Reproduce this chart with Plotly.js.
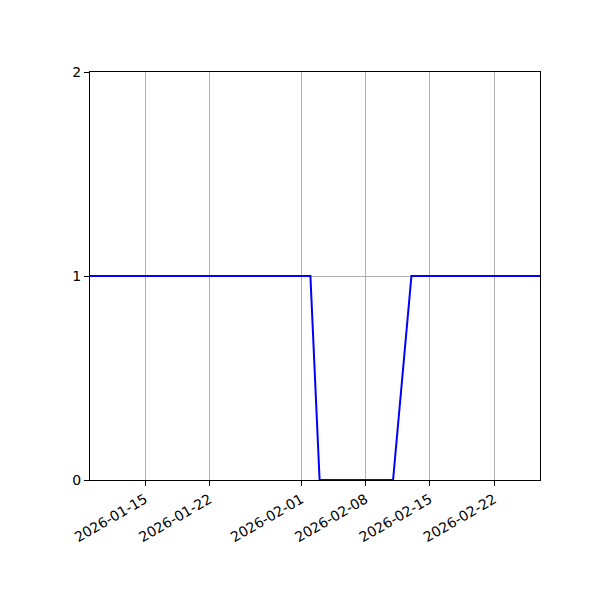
<!DOCTYPE html>
<html>
<head>
<meta charset="utf-8">
<script src="https://cdn.plot.ly/plotly-3.0.1.min.js"></script>
<style>
  body { margin: 0; background: #fff; }
  #chart { width: 600px; height: 600px; }
</style>
</head>
<body>
<div id="chart"></div>
<script>
// daily status values (02-12 has no sample)
const dates = [
  '2026-01-09', '2026-01-10', '2026-01-11', '2026-01-12', '2026-01-13', '2026-01-14',
  '2026-01-15', '2026-01-16', '2026-01-17', '2026-01-18', '2026-01-19', '2026-01-20',
  '2026-01-21', '2026-01-22', '2026-01-23', '2026-01-24', '2026-01-25', '2026-01-26',
  '2026-01-27', '2026-01-28', '2026-01-29', '2026-01-30', '2026-01-31', '2026-02-01',
  '2026-02-02', '2026-02-03', '2026-02-04', '2026-02-05', '2026-02-06', '2026-02-07',
  '2026-02-08', '2026-02-09', '2026-02-10', '2026-02-11', '2026-02-13', '2026-02-14',
  '2026-02-15', '2026-02-16', '2026-02-17', '2026-02-18', '2026-02-19', '2026-02-20',
  '2026-02-21', '2026-02-22', '2026-02-23', '2026-02-24', '2026-02-25', '2026-02-26',
  '2026-02-27'
]
const values = [
  1, 1, 1, 1, 1, 1,
  1, 1, 1, 1, 1, 1,
  1, 1, 1, 1, 1, 1,
  1, 1, 1, 1, 1, 1,
  1, 0, 0, 0, 0, 0,
  0, 0, 0, 0, 1, 1,
  1, 1, 1, 1, 1, 1,
  1, 1, 1, 1, 1, 1,
  1
]
const xTicks = ['2026-01-15', '2026-01-22', '2026-02-01', '2026-02-08', '2026-02-15', '2026-02-22']
const yTicks = [0, 1, 2]

const GRID = '#b0b0b0'

const traces = [
  {
    x: dates,
    y: values,
    mode: 'lines',
    type: 'scatter',
    line: { color: 'blue', width: 2 },
    hoverinfo: 'skip'
  }
]

const axisCommon = {
  showline: true,
  linecolor: 'black',
  linewidth: 1,
  mirror: true,
  ticks: 'outside',
  ticklen: 5,
  tickwidth: 1,
  tickcolor: 'black',
  showgrid: true,
  gridcolor: GRID,
  gridwidth: 1,
  zeroline: false
}

const layout = {
  width: 600,
  height: 600,
  margin: { l: 90, r: 60, t: 72, b: 120 },
  paper_bgcolor: 'white',
  plot_bgcolor: 'white',
  showlegend: false,
  font: { family: 'DejaVu Sans', size: 14, color: 'black' },
  xaxis: Object.assign({}, axisCommon, {
    type: 'date',
    range: ['2026-01-09', '2026-02-27'],
    tickmode: 'array',
    tickvals: xTicks,
    ticktext: xTicks,
    tickangle: -30
  }),
  yaxis: Object.assign({}, axisCommon, {
    range: [0, 2],
    tickmode: 'array',
    tickvals: yTicks,
    ticktext: yTicks.map(String)
  })
}

Plotly.newPlot('chart', traces, layout, { staticPlot: true, displayModeBar: false })
</script>
</body>
</html>
